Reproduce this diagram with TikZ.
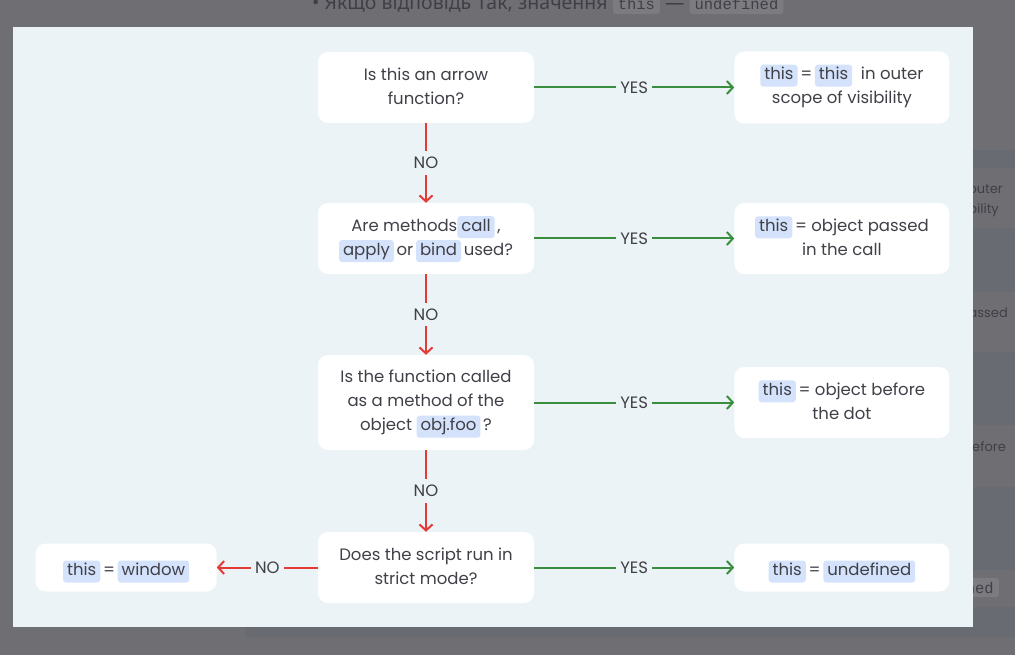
\documentclass[tikz,border=0pt]{standalone}
\usepackage{fontspec}
\setmainfont{Poppins}
\newfontfamily\topfont{Noto Sans}
\setmonofont{Liberation Mono}
\usetikzlibrary{calc,positioning,arrows.meta}
\definecolor{pagegray}{HTML}{6F6E73}
\definecolor{rowblue}{HTML}{686B72}
\definecolor{codegray}{HTML}{7B7B80}
\definecolor{dimtxt}{HTML}{3F3F47}
\definecolor{panel}{HTML}{EBF3F7}
\definecolor{txt}{HTML}{404048}
\definecolor{hlblue}{HTML}{D4E3FB}
\definecolor{yesgreen}{HTML}{388E3C}
\definecolor{nored}{HTML}{E53935}
\newcommand{\mainsz}{\fontsize{16.5}{24}\selectfont}
\newcommand{\lstrut}{\rule[-3pt]{0pt}{24pt}}
\newcommand{\sstrut}{\rule[-5pt]{0pt}{24pt}}
\tikzset{inline/.style={anchor=base,minimum width=0pt,minimum height=0pt,rounded corners=3pt,inner ysep=3.5pt}}
\newcommand{\hl}[1]{\smash{\tikz[baseline=(h.base)]\node[inline,fill=hlblue,inner xsep=4pt,text height=11.5pt,text depth=3.5pt] (h) {#1};}}
\newcommand{\code}[1]{\tikz[baseline=(c.base)]\node[inline,fill=codegray,inner xsep=5pt,inner ysep=4pt] (c) {\fontsize{15.5}{18}\ttfamily #1};}

\begin{document}
\begin{tikzpicture}[x=1pt,y=-1pt,node distance=200pt]

\tikzset{box/.style={fill=white,rounded corners=10pt,align=center,font=\mainsz,text=txt,inner sep=0pt,
  execute at begin node=\lstrut,execute at end node=\lstrut},
oneline/.style={execute at begin node=\sstrut,execute at end node={},minimum height=48pt},
question/.style={box,minimum width=216pt,minimum height=71pt},
answer/.style={box,minimum width=215pt,minimum height=72pt},
yesline/.style={draw=yesgreen,line width=2pt,-{Straight Barb[length=6pt,width=13pt]}},
noline/.style={draw=nored,line width=2pt,-{Straight Barb[length=6pt,width=13pt]}},
lbl/.style={fill=panel,text=txt,font=\mainsz,inner xsep=4pt,inner ysep=6pt},
dim/.style={text=dimtxt,inner sep=0pt}}

% page behind the panel
\useasboundingbox (0,0) rectangle (1015,655);
\fill[pagegray] (0,0) rectangle (1015,655);
\foreach \ya/\yb in {150/168,228/292,352/425,487/570,607/637} \fill[rowblue] (245,\ya) rectangle (1015,\yb);
\node[dim,anchor=base west] (toptext) at (312,10) {\topfont\fontsize{19.5}{22}\selectfont • Якщо відповідь \textbf{Так}, значення \code{this} — \code{undefined}};
\node[dim,anchor=base east,font=\fontsize{13}{16}\selectfont] (bg1) at (1003,194) {in outer};
\node[dim,anchor=base east,font=\fontsize{13}{16}\selectfont] (bg2) at (999,214) {of visibility};
\node[dim,anchor=base east,font=\fontsize{13}{16}\selectfont] (bg3) at (1008,317) {object passed};
\node[dim,anchor=base east,font=\fontsize{13}{16}\selectfont] (bg4) at (1006,451) {object before};
\node[dim,anchor=base east,font=\fontsize{13}{16}\selectfont] (bg5) at (999,593) {\code{undefined}};

% panel
\fill[panel] (13,27) rectangle (973,627);

% questions
\node[question] (q1) at (426,87.5) {Is this an arrow\\function?};
\node[question] (q2) at (426,238.5) {Are methods\hl{call}\,,\\\hl{apply}\,or\,\hl{bind}\,used?};
\node[question,minimum height=95pt] (q3) at (426,402.5) {Is the function called\\as a method of the\\object \hl{obj.foo}\,?};
\node[question] (q4) at (426,567.5) {Does the script run in\\strict mode?};

% answers
\node[answer,right=of q1] (a1) {\hl{this}\,=\,\hl{this}\ \ in outer\\scope of visibility};
\node[answer,right=of q2,minimum height=71pt] (a2) {\hl{this}\,= object passed\\in the call};
\node[answer,right=of q3,minimum height=71pt] (a3) {\hl{this}\,= object before\\the dot};
\node[answer,right=of q4,oneline] (a4) {\hl{this}\,=\,\hl{undefined}};
\node[box,left=101pt of q4,minimum width=181pt,oneline] (w) {\hl{this}\,=\,\hl{window}};

% edges
\draw[noline] (q1) -- node[lbl] {NO} (q2);
\draw[noline] (q2) -- node[lbl] {NO} (q3);
\draw[noline] (q3) -- node[lbl] {NO} (q4);
\draw[noline] (q4) -- node[lbl] {NO} (w);
\foreach \i in {1,2,3,4} \draw[yesline] (q\i) -- node[lbl] {YES} (a\i);

\end{tikzpicture}
\end{document}
